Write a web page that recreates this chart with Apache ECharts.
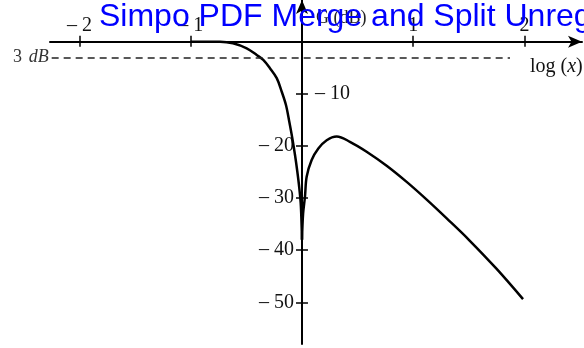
<!DOCTYPE html>
<html>
<head>
<meta charset="utf-8">
<script src="https://cdn.jsdelivr.net/npm/echarts@6/dist/echarts.min.js"></script>
<style>
html,body{margin:0;padding:0;background:#fff;}
#c{width:584px;height:348px;}
</style>
</head>
<body>
<div id="c"></div>
<script>
// ---- data ----
const xTickValues = [-2, -1, 1, 2];
const yTickValues = [-10, -20, -30, -40, -50];
const yLeftLabelValues = [-20, -30, -40, -50];
const yRightLabelValues = [-10];
// left branch of G(dB) vs log(x)
const leftLogX = [-1.0, -0.85, -0.737, -0.62, -0.497, -0.407, -0.348, -0.288, -0.227, -0.182, -0.144, -0.114, -0.087, -0.063, -0.042, -0.024, -0.01, 0];
const leftGain = [0, 0, 0, -0.3, -1.27, -2.55, -3.5, -5.1, -7.0, -9.6, -12.15, -15.35, -18.5, -21.7, -24.9, -28.1, -31.5, -38];
// right branch
const rightLogX = [0, 0.01, 0.027, 0.042, 0.087, 0.147, 0.222, 0.312, 0.431, 0.581, 0.761, 0.941, 1.121, 1.301, 1.5, 1.75, 1.987];
const rightGain = [-38, -33, -29.7, -25.9, -22.7, -20.5, -18.9, -18.2, -19.2, -21.1, -23.8, -26.9, -30.3, -33.9, -38.0, -43.6, -49.4];
// -3 dB reference line
const refLevel = [-3];
const refSpan = [-2.25, 1.87];
const watermark = 'Simpo PDF Merge and Split Unreg';

const toPairs = (xs, ys) => xs.map((x, i) => [x, ys[i]]);

// axis ranges and grid box
const xMin = -2.265, xMax = 2.517, yMin = -58, yMax = 8;
const gridLeft = 50, gridRight = 2, gridTop = 0, gridBottom = 4;
const W = 584, H = 348;
const gridW = W - gridLeft - gridRight, gridH = H - gridTop - gridBottom;
const x0px = (0 - xMin) / (xMax - xMin) * gridW;   // distance of x=0 from grid left
const y0px = (yMax - 0) / (yMax - yMin) * gridH;   // distance of y=0 from grid top

const serif = '"Liberation Serif", "DejaVu Serif", serif';
const labelStyle = { color: '#111', fontFamily: serif, fontSize: 20 };

const chart = echarts.init(document.getElementById('c'), null, { renderer: 'canvas' });
chart.setOption({
  animation: false,
  backgroundColor: '#fff',
  grid: { left: gridLeft, right: gridRight, top: gridTop, bottom: gridBottom, containLabel: false, outerBoundsMode: 'none' },
  title: [
    { text: 'G (dB)', left: 311, top: 4, textStyle: { fontFamily: serif, fontSize: 18, fontWeight: 'normal', color: '#222' } },
    { text: '{a|log (}{b|x}{a|)}', left: 525, top: 52,
      textStyle: { fontWeight: 'normal', rich: {
        a: { fontFamily: serif, fontSize: 20, fontWeight: 'normal', color: '#111' },
        b: { fontFamily: serif, fontSize: 20, fontStyle: 'italic', fontWeight: 'normal', color: '#111' }
      } } }
  ],
  xAxis: [
    { type: 'value', min: xMin, max: xMax, position: 'top', offset: -y0px,
      axisLine: { onZero: false, lineStyle: { color: '#000', width: 2 }, symbol: ['none', 'arrow'], symbolSize: [9, 14] },
      axisTick: { customValues: xTickValues, length: 6, lineStyle: { color: '#000', width: 1.5 } },
      axisLabel: Object.assign({ customValues: xTickValues, margin: 6, formatter: v => (v < 0 ? '– ' : '') + Math.abs(v) }, labelStyle),
      splitLine: { show: false } },
    { type: 'value', min: xMin, max: xMax, position: 'bottom', offset: -(gridH - y0px),
      axisLine: { show: false, onZero: false },
      axisTick: { customValues: xTickValues, length: 5, lineStyle: { color: '#000', width: 1.5 } },
      axisLabel: { show: false },
      splitLine: { show: false } }
  ],
  yAxis: [
    { type: 'value', min: yMin, max: yMax, position: 'left', offset: -x0px,
      axisLine: { onZero: false, lineStyle: { color: '#000', width: 2 }, symbol: ['none', 'arrow'], symbolSize: [9, 14] },
      axisTick: { customValues: yTickValues, length: 6, lineStyle: { color: '#000', width: 1.5 } },
      axisLabel: Object.assign({ customValues: yLeftLabelValues, margin: 8, formatter: v => '– ' + Math.abs(v) }, labelStyle),
      splitLine: { show: false } },
    { type: 'value', min: yMin, max: yMax, position: 'left', offset: -x0px,
      axisLine: { show: false, onZero: false },
      axisTick: { inside: true, customValues: yTickValues, length: 6, lineStyle: { color: '#000', width: 1.5 } },
      axisLabel: Object.assign({ inside: true, customValues: yRightLabelValues, margin: 13, formatter: v => '– ' + Math.abs(v) }, labelStyle),
      splitLine: { show: false } }
  ],
  series: [
    { type: 'line', xAxisIndex: 0, yAxisIndex: 0, data: toPairs(leftLogX, leftGain),
      showSymbol: false, smooth: 0.35,
      lineStyle: { color: '#000', width: 2.5 },
      markLine: {
        silent: true, symbol: ['none', 'none'],
        lineStyle: { color: '#222', width: 1.5, type: [7, 5] },
        label: { show: true, position: 'start', distance: 3,
          formatter: '{n|3}  {i|dB}',
          rich: { n: { fontFamily: serif, fontSize: 18, color: '#333' }, i: { fontFamily: serif, fontSize: 18, fontStyle: 'italic', color: '#333' } } },
        data: [[{ coord: [refSpan[0], refLevel[0]] }, { coord: [refSpan[1], refLevel[0]] }]]
      } },
    { type: 'line', xAxisIndex: 0, yAxisIndex: 0, data: toPairs(rightLogX, rightGain),
      showSymbol: false, smooth: 0.35,
      lineStyle: { color: '#000', width: 2.5 } }
  ],
  graphic: [
    { type: 'text', x: 99, y: 17, z: 100,
      style: { text: watermark, font: '32px "Liberation Sans", Arial, sans-serif', fill: '#0000ff', verticalAlign: 'middle', align: 'left' } }
  ]
});
</script>
</body>
</html>
